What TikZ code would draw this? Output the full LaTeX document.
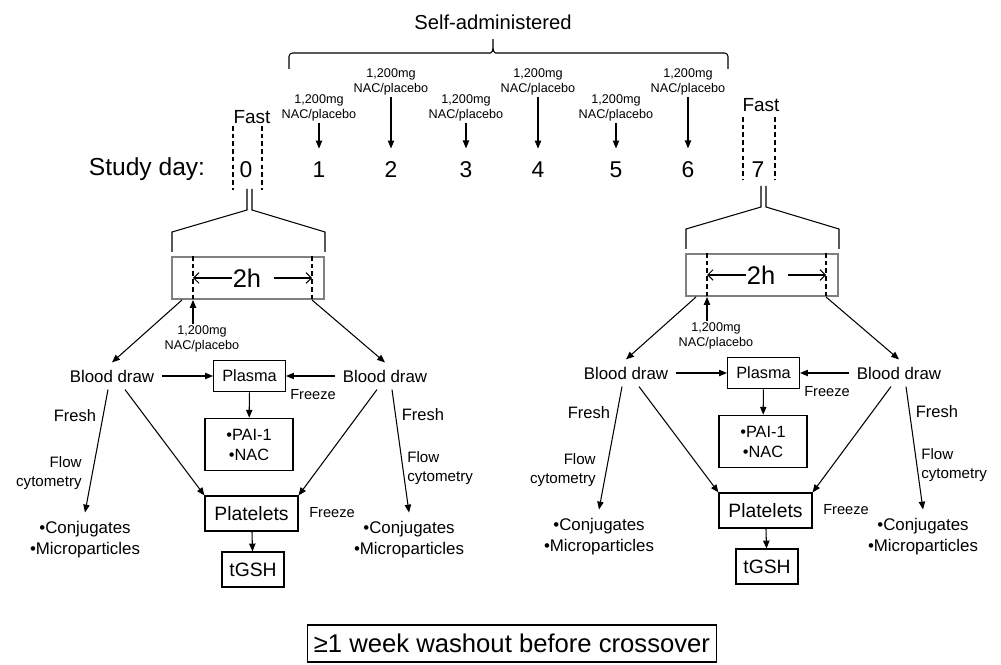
\documentclass[tikz,border=0pt]{standalone}
\usepackage{fontspec}
\setmainfont{Liberation Sans}
\usetikzlibrary{positioning,arrows.meta,shadows}

\begin{document}
\begin{tikzpicture}[x=0.02cm,y=-0.02cm,
    arr/.style={-{Triangle[length=4.5pt,width=3.6pt]},line width=0.6pt},
    barb/.style={-{Straight Barb[length=3pt,width=6pt]},line width=0.6pt},
    dashline/.style={dash pattern=on 2.6pt off 1.8pt,line width=0.6pt},
    box/.style={draw,line width=0.6pt,inner sep=0pt,align=center,font=\fontsize{9.3}{11.4}\selectfont},
    bigbox/.style={box,font=\fontsize{11}{13}\selectfont},
    timebox/.style={draw=gray,line width=1.1pt,fill=white,minimum width=3.04cm,minimum height=0.84cm,
      drop shadow={shadow xshift=0.7pt,shadow yshift=-0.7pt,opacity=0.3}},
    txt/.style={inner sep=4pt,align=center,font=\fontsize{9.6}{11.9}\selectfont},
    small/.style={inner sep=0pt,align=center,font=\fontsize{8.6}{10.8}\selectfont},
    dose/.style={inner sep=1pt,align=center,font=\fontsize{7.2}{8.2}\selectfont},
    day/.style={inner sep=0pt,font=\fontsize{13}{15}\selectfont}]
  \useasboundingbox (0,0) rectangle (1001,665);

  % days and self-administered doses
  \node[inner sep=0pt,font=\fontsize{11.5}{13}\selectfont] (self) at (493,22) {Self-administered};
  \draw[line width=0.6pt,rounded corners=2pt] (289,69) -- (289,53) -- (487,53)
    to[out=0,in=-90] (493,37) to[out=-90,in=180] (499,53) -- (728,53) -- (728,69);
  \node[inner sep=0pt,font=\fontsize{14}{16}\selectfont] (study) at (147,169) {Study day:};
  \node[day] (d0) at (246,170) {0};
  \node[day] (d7) at (758,170) {7};
  \foreach \d/\x/\ly in {1/319/123,2/391/97,3/466/123,4/538/97,5/616/123,6/688/97}{
    \node[day] (d\d) at (\x,170) {\d};
    \node[dose,anchor=south] (n\d) at (\x,\ly) {1,200mg\\NAC/placebo};
    \draw[arr,shorten >=7.5pt] (n\d) -- (d\d);
  }
  \node[inner sep=0pt,font=\fontsize{10.8}{13}\selectfont] (f0) at (252,117) {Fast};
  \node[inner sep=0pt,font=\fontsize{10.8}{13}\selectfont] (f7) at (761,105) {Fast};
  \draw[dashline] (233,126) -- (233,190) (262,126) -- (262,190);
  \draw[dashline] (743,117) -- (743,179) (775,117) -- (775,179);

  % the two study visits
  \foreach \p/\dx/\dy in {a/0/0,b/514/-3}{
  \begin{scope}[shift={(\dx,\dy)}]
    \draw[line width=0.6pt] (247,189) -- (247,210) -- (172,232) -- (172,252);
    \draw[line width=0.6pt] (252,189) -- (252,210) -- (325,232) -- (325,252);
    \node[timebox] (\p-box) at (248,278) {};
    \coordinate (\p-dl) at (193,278);
    \coordinate (\p-dr) at (312,278);
    \draw[dashline] (\p-dl |- \p-box.north) -- (\p-dl |- \p-box.south);
    \draw[dashline] (\p-dr |- \p-box.north) -- (\p-dr |- \p-box.south);
    \node[inner sep=0pt,font=\fontsize{14.5}{16}\selectfont] (\p-2h) at (247,278) {2h};
    \draw[barb] (\p-2h.west) -- (\p-dl);
    \draw[barb] ([xshift=0.24cm]\p-2h.east) -- (\p-dr);
    \node[dose] (\p-nac) at (202,339) {1,200mg\\NAC/placebo};
    \draw[arr] (\p-nac.north -| \p-dl) -- (\p-dl |- \p-box.south);

    \node[txt] (\p-bl) at (112,376) {Blood draw};
    \node[box,minimum width=1.44cm,minimum height=0.63cm] (\p-pl) at (249.5,376) {Plasma};
    \node[txt] (\p-br) at (385,376) {Blood draw};
    \draw[arr] ([xshift=0.22cm]\p-box.south west) -- (\p-bl.north);
    \draw[arr] (\p-dr |- \p-box.south) -- (\p-br.north);
    \draw[arr] (\p-bl) -- (\p-pl);
    \draw[arr] (\p-br) -- (\p-pl);
    \node[small,font=\fontsize{8.3}{10}\selectfont] (\p-fz1) at (313,395) {Freeze};
    \node[box,minimum width=1.76cm,minimum height=1.05cm] (\p-pai) at (249,444.5) {•PAI-1\\•NAC};
    \draw[arr] (\p-pl) -- (\p-pai);

    \node[bigbox,minimum width=1.86cm,minimum height=0.7cm] (\p-plt) at (251.5,513.5) {Platelets};
    \node[bigbox,minimum width=1.24cm,minimum height=0.7cm] (\p-gsh) at (253,569.5) {tGSH};
    \draw[arr] (\p-plt) -- (\p-gsh);
    \node[small,font=\fontsize{8.3}{10}\selectfont] (\p-fz2) at (332,513) {Freeze};
    \draw[arr] ([xshift=0.26cm]\p-bl.south) -- (\p-plt.north west);
    \draw[arr] ([xshift=-0.16cm]\p-br.south) -- (\p-plt.north east);

    \node[txt,inner sep=5pt] (\p-cl) at (85,540) {•Conjugates\\•Microparticles};
    \node[txt,inner sep=5pt] (\p-cr) at (409,540) {•Conjugates\\•Microparticles};
    \draw[arr] ([xshift=-0.08cm]\p-bl.south) -- (\p-cl.north);
    \draw[arr] ([xshift=0.14cm]\p-br.south) -- (\p-cr.north);
    \node[txt,inner sep=0pt,font=\fontsize{9.4}{11}\selectfont] (\p-frl) at (75,416) {Fresh};
    \node[txt,inner sep=0pt,font=\fontsize{9.4}{11}\selectfont] (\p-frr) at (423,415) {Fresh};
    \node[small,align=right,anchor=east] (\p-cyl) at (82,473) {Flow\\cytometry};
    \node[small,align=left,anchor=west] (\p-cyr) at (407,468) {Flow\\cytometry};
  \end{scope}
  }

  \node[draw,line width=0.6pt,minimum width=8.2cm,minimum height=0.74cm,
    font=\fontsize{14.6}{16}\selectfont] (wash) at (512,643.5) {≥1 week washout before crossover};
\end{tikzpicture}
\end{document}
